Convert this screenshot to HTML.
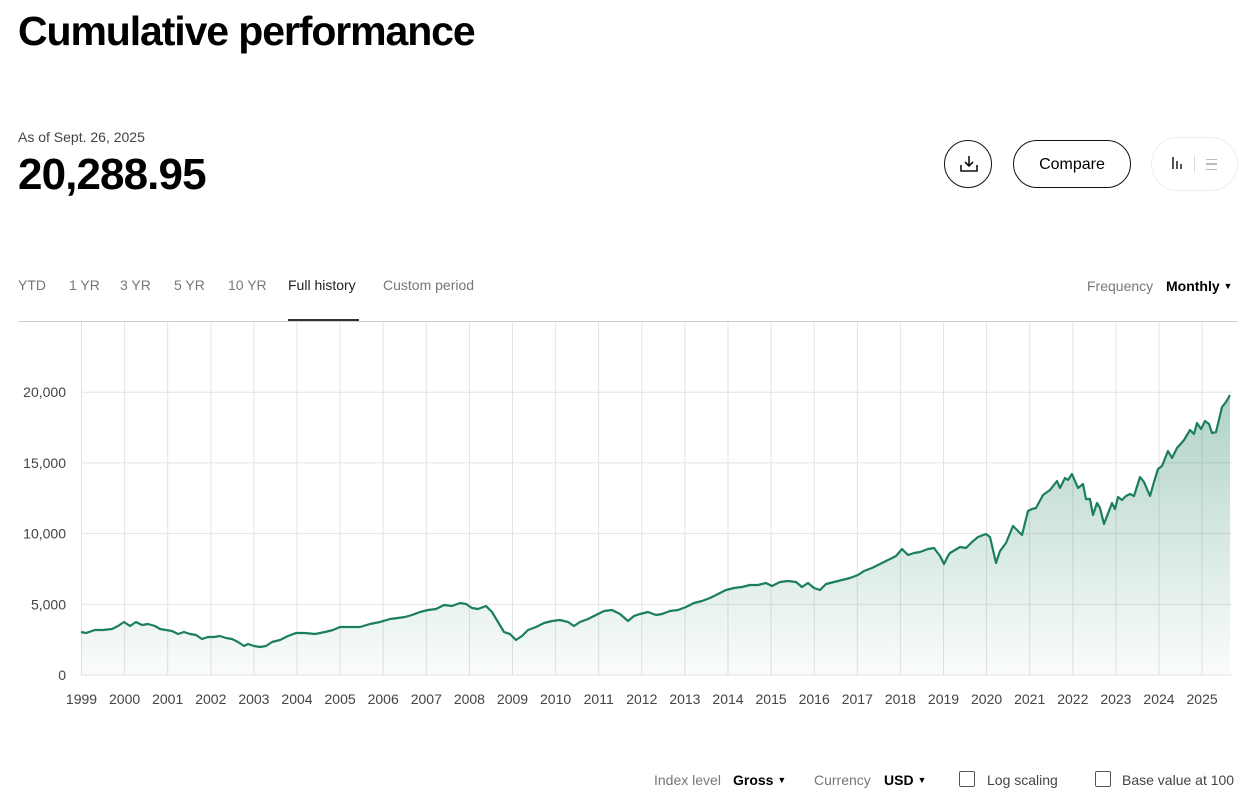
<!DOCTYPE html>
<html><head><meta charset="utf-8"><style>
body{margin:0;width:1250px;height:804px;background:#fff;font-family:"Liberation Sans",sans-serif;color:#000;position:relative;overflow:hidden}
.a{position:absolute;white-space:nowrap}
.g{color:#777}
</style></head><body>
<div class="a" style="left:18px;top:8px;font-size:41px;font-weight:bold;letter-spacing:-1.1px">Cumulative performance</div>
<div class="a" style="left:18px;top:129px;font-size:14px;color:#444">As of Sept. 26, 2025</div>
<div class="a" style="left:18px;top:150px;font-size:44px;font-weight:bold;letter-spacing:-0.9px">20,288.95</div>
<div class="a" style="left:944px;top:140px;width:46px;height:46px;border:1.5px solid #111;border-radius:50%"></div>
<svg class="a" style="left:958px;top:153px" width="22" height="22" viewBox="0 0 22 22" fill="none" stroke="#111" stroke-width="1.6"><path d="M11 3v10M7 9l4 4 4-4M3 12v6h16v-6"/></svg>
<div class="a" style="left:1013px;top:140px;width:116px;height:46px;border:1.5px solid #111;border-radius:24px;text-align:center;line-height:48px;font-size:16px">Compare</div>
<div class="a" style="left:1151px;top:137px;width:85px;height:52px;border:1px solid #eee;border-radius:27px"></div>
<div class="a" style="left:1172px;top:157px;width:2px;height:12px;background:#555"></div>
<div class="a" style="left:1176px;top:161px;width:2px;height:8px;background:#555"></div>
<div class="a" style="left:1180px;top:164px;width:2px;height:5px;background:#555"></div>
<div class="a" style="left:1194px;top:155px;width:1px;height:18px;background:#ddd"></div>
<div class="a" style="left:1206px;top:159px;width:11px;height:9px;border-top:1.5px solid #bbb;border-bottom:1.5px solid #bbb"></div>
<div class="a" style="left:1206px;top:163px;width:11px;height:1.5px;background:#bbb"></div>
<div class="a g" style="left:18px;top:277px;font-size:14px">YTD</div>
<div class="a g" style="left:69px;top:277px;font-size:14px">1 YR</div>
<div class="a g" style="left:120px;top:277px;font-size:14px">3 YR</div>
<div class="a g" style="left:174px;top:277px;font-size:14px">5 YR</div>
<div class="a g" style="left:228px;top:277px;font-size:14px">10 YR</div>
<div class="a" style="left:288px;top:277px;font-size:14px;color:#222">Full history</div>
<div class="a g" style="left:383px;top:277px;font-size:14px">Custom period</div>
<div class="a g" style="left:1087px;top:278px;font-size:14px">Frequency</div>
<div class="a" style="left:1166px;top:278px;font-size:14px;font-weight:bold">Monthly <span style="font-size:9px;vertical-align:2px">▼</span></div>
<div class="a" style="left:18px;top:321px;width:1220px;height:1px;background:#ccc"></div>
<div class="a" style="left:288px;top:319px;width:71px;height:2px;background:#333"></div>
<svg class="a" style="left:0;top:0" width="1250" height="804">
<defs><linearGradient id="gr" x1="0" y1="390" x2="0" y2="675" gradientUnits="userSpaceOnUse"><stop offset="0" stop-color="#1a7f5a" stop-opacity="0.35"/><stop offset="1" stop-color="#1a7f5a" stop-opacity="0.02"/></linearGradient></defs>
<g stroke="#e3e3e3" stroke-width="1" id="grid"></g>
<g id="lbl" font-size="14" fill="#444" font-family="Liberation Sans"></g>
<path id="ar" fill="url(#gr)"/>
<path id="ln" fill="none" stroke="#1a7f5a" stroke-width="2.2" stroke-linejoin="round"/>
</svg>
<div class="a g" style="left:654px;top:772px;font-size:14px">Index level</div>
<div class="a" style="left:733px;top:772px;font-size:14px;font-weight:bold">Gross <span style="font-size:9px;vertical-align:2px">▼</span></div>
<div class="a g" style="left:814px;top:772px;font-size:14px">Currency</div>
<div class="a" style="left:884px;top:772px;font-size:14px;font-weight:bold">USD <span style="font-size:9px;vertical-align:2px">▼</span></div>
<div class="a" style="left:959px;top:771px;width:14px;height:14px;border:1px solid #555;border-radius:2px"></div>
<div class="a" style="left:987px;top:772px;font-size:14px;color:#444">Log scaling</div>
<div class="a" style="left:1095px;top:771px;width:14px;height:14px;border:1px solid #555;border-radius:2px"></div>
<div class="a" style="left:1122px;top:772px;font-size:14px;color:#444">Base value at 100</div>
<script>
var ns="http://www.w3.org/2000/svg",g=document.getElementById('grid'),l=document.getElementById('lbl');
function el(p,t,a,tx){var e=document.createElementNS(ns,t);for(var k in a)e.setAttribute(k,a[k]);if(tx)e.textContent=tx;p.appendChild(e);}
for(var i=0;i<=26;i++){var x=81.5+i*43.1;el(g,'line',{x1:x,x2:x,y1:322,y2:675});el(l,'text',{x:x,y:704,'text-anchor':'middle'},String(1999+i));}
for(var j=0;j<=4;j++){var y=675-j*70.7;el(g,'line',{x1:81,x2:1233,y1:y,y2:y});el(l,'text',{x:66,y:y+5,'text-anchor':'end'},j?(j*5)+',000':'0');}
var p=[81,632,86,633,95,630,103,630,112,629,118,626,124,622,130,626,136,622,142,625,148,624,155,626,160,629,166,630,172,631,178,634,184,632,190,634,196,635,202,639,208,637,214,637,220,636,226,638,232,639,238,642,244,646,248,644,254,646,260,647,266,646,272,642,280,640,288,636,296,633,305,633,315,634,325,632,333,630,340,627,350,627,360,627,370,624,380,622,390,619,398,618,405,617,412,615,420,612,428,610,436,609,444,605,452,606,460,603,466,604,472,608,478,609,486,606,492,612,498,622,504,632,510,634,516,640,522,636,528,630,536,627,544,623,552,621,560,620,568,622,574,626,580,622,588,619,596,615,604,611,612,610,620,614,628,621,634,616,640,614,648,612,656,615,662,614,670,611,678,610,686,607,694,603,702,601,710,598,718,594,726,590,734,588,742,587,750,585,758,585,766,583,772,586,780,582,788,581,796,582,802,587,808,583,814,588,820,590,826,584,834,582,842,580,850,578,858,575,864,571,872,568,880,564,888,560,896,556,902,549,908,555,914,553,920,552,928,549,934,548,940,556,944,564,948,556,950,553,960,547,966,548,972,542,978,537,986,534,990,537,996,563,1000,551,1006,543,1013,526,1017,530,1022,535,1028,511,1032,509,1036,508,1043,495,1050,490,1057,481,1060,488,1065,478,1068,480,1072,474,1078,488,1083,484,1086,499,1090,499,1093,515,1097,503,1100,508,1104,524,1112,503,1115,509,1118,497,1122,500,1126,496,1130,494,1134,496,1140,477,1144,482,1150,496,1154,482,1158,469,1162,466,1168,451,1172,458,1177,448,1184,440,1190,430,1194,434,1197,423,1201,429,1205,421,1209,424,1212,433,1216,432,1222,407,1226,402,1230,395];
var d='M'+p[0]+' '+p[1];for(var k=2;k<p.length;k+=2)d+='L'+p[k]+' '+p[k+1];
document.getElementById('ln').setAttribute('d',d);
document.getElementById('ar').setAttribute('d',d+'L1230 675L81 675Z');
</script>
</body></html>
